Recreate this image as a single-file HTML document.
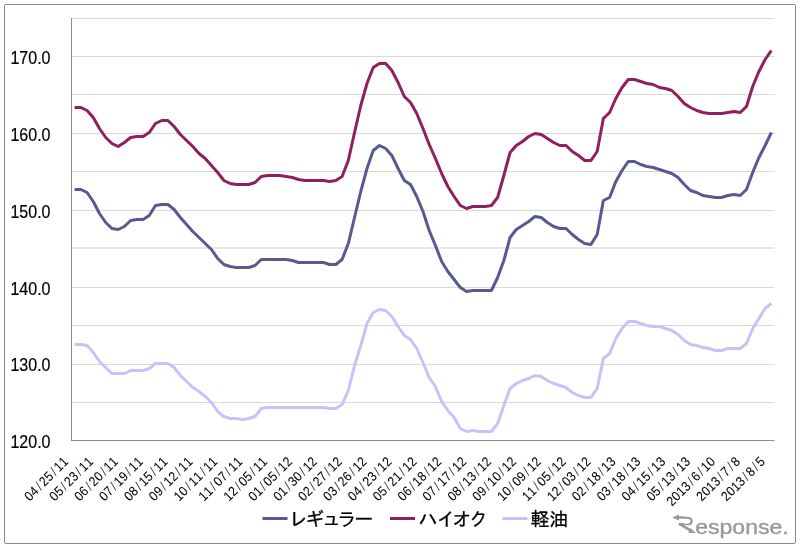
<!DOCTYPE html>
<html><head><meta charset="utf-8"><title>chart</title>
<style>
html,body{margin:0;padding:0;background:#fff;}
body{width:800px;height:547px;overflow:hidden;position:relative;}
svg{position:absolute;left:0;top:0;display:block;}
.yl{font-family:"Liberation Sans",sans-serif;fill:#000;}
.xl{font-family:"Liberation Sans",sans-serif;fill:#000;}
.lg{font-family:"Liberation Sans","IPAPGothic","IPAGothic","Noto Sans CJK JP",sans-serif;fill:#000;}
.logo{font-family:"Liberation Sans","DejaVu Sans",sans-serif;fill:#999;}
</style></head><body>
<svg width="800" height="547" viewBox="0 0 800 547">
<rect x="0" y="0" width="800" height="547" fill="#fff"/>
<rect x="4.5" y="4.5" width="791" height="539" rx="1.5" fill="none" stroke="#8c8c8c" stroke-width="1"/>

<line x1="71" y1="18.5" x2="774.5" y2="18.5" stroke="#d9d9d9" stroke-width="1"/>
<line x1="71" y1="56.5" x2="774.5" y2="56.5" stroke="#d9d9d9" stroke-width="1"/>
<line x1="71" y1="94.5" x2="774.5" y2="94.5" stroke="#d9d9d9" stroke-width="1"/>
<line x1="71" y1="133.5" x2="774.5" y2="133.5" stroke="#d9d9d9" stroke-width="1"/>
<line x1="71" y1="171.5" x2="774.5" y2="171.5" stroke="#d9d9d9" stroke-width="1"/>
<line x1="71" y1="210.5" x2="774.5" y2="210.5" stroke="#d9d9d9" stroke-width="1"/>
<line x1="71" y1="287.5" x2="774.5" y2="287.5" stroke="#d9d9d9" stroke-width="1"/>
<line x1="71" y1="325.5" x2="774.5" y2="325.5" stroke="#d9d9d9" stroke-width="1"/>
<line x1="71" y1="364.5" x2="774.5" y2="364.5" stroke="#d9d9d9" stroke-width="1"/>
<line x1="71" y1="402.5" x2="774.5" y2="402.5" stroke="#d9d9d9" stroke-width="1"/>
<rect x="71" y="247" width="703.5" height="2" fill="#e6e6e6"/>
<line x1="71.5" y1="18" x2="71.5" y2="441" stroke="#8c8c8c" stroke-width="1"/>
<line x1="71" y1="440.5" x2="774.5" y2="440.5" stroke="#8c8c8c" stroke-width="1"/>
<text class="yl" text-anchor="end" font-size="17.8" stroke="#000" stroke-width="0.2" transform="translate(50.5,64.1) scale(0.9,1)">170.0</text>
<text class="yl" text-anchor="end" font-size="17.8" stroke="#000" stroke-width="0.2" transform="translate(50.5,141.1) scale(0.9,1)">160.0</text>
<text class="yl" text-anchor="end" font-size="17.8" stroke="#000" stroke-width="0.2" transform="translate(50.5,218.1) scale(0.9,1)">150.0</text>
<text class="yl" text-anchor="end" font-size="17.8" stroke="#000" stroke-width="0.2" transform="translate(50.5,295.1) scale(0.9,1)">140.0</text>
<text class="yl" text-anchor="end" font-size="17.8" stroke="#000" stroke-width="0.2" transform="translate(50.5,371.1) scale(0.9,1)">130.0</text>
<text class="yl" text-anchor="end" font-size="17.8" stroke="#000" stroke-width="0.2" transform="translate(50.5,448.1) scale(0.9,1)">120.0</text>
<polyline fill="none" stroke="#c4c4fa" stroke-width="3" stroke-linejoin="round" stroke-linecap="butt" points="74.60,344.50 80.82,344.50 87.04,345.50 93.26,352.50 99.48,361.50 105.70,367.50 111.93,373.50 118.15,373.50 124.37,373.50 130.59,370.50 136.81,370.50 143.03,370.50 149.25,368.50 155.47,363.50 161.69,363.50 167.91,363.50 174.14,367.50 180.36,375.50 186.58,381.50 192.80,387.50 199.02,391.50 205.24,396.50 211.46,402.50 217.68,411.50 223.90,416.50 230.12,418.50 236.35,418.50 242.57,419.50 248.79,418.50 255.01,416.50 261.23,408.50 267.45,407.50 273.67,407.50 279.89,407.50 286.11,407.50 292.34,407.50 298.56,407.50 304.78,407.50 311.00,407.50 317.22,407.50 323.44,407.50 329.66,408.50 335.88,408.50 342.10,404.50 348.32,390.50 354.54,365.50 360.77,345.50 366.99,323.50 373.21,312.50 379.43,309.50 385.65,310.50 391.87,316.50 398.09,326.50 404.31,335.50 410.53,339.50 416.75,348.50 422.98,362.50 429.20,377.50 435.42,386.50 441.64,401.50 447.86,410.50 454.08,417.50 460.30,428.50 466.52,431.50 472.74,430.50 478.97,431.50 485.19,431.50 491.41,431.50 497.63,423.50 503.85,405.50 510.07,388.50 516.29,383.50 522.51,380.50 528.73,378.50 534.95,375.50 541.17,376.50 547.40,380.50 553.62,383.50 559.84,385.50 566.06,387.50 572.28,392.50 578.50,395.50 584.72,397.50 590.94,397.50 597.16,388.50 603.38,358.50 609.61,353.50 615.83,338.50 622.05,328.50 628.27,321.50 634.49,321.50 640.71,323.50 646.93,325.50 653.15,326.50 659.37,326.50 665.60,328.50 671.82,330.50 678.04,334.50 684.26,340.50 690.48,344.50 696.70,345.50 702.92,347.50 709.14,348.50 715.36,350.50 721.58,350.50 727.81,348.50 734.03,348.50 740.25,348.50 746.47,343.50 752.69,328.50 758.91,318.50 765.13,308.50 771.35,303.50"/>
<polyline fill="none" stroke="#575a8e" stroke-width="3" stroke-linejoin="round" stroke-linecap="butt" points="74.60,189.50 80.82,189.50 87.04,192.50 93.26,201.50 99.48,213.50 105.70,222.50 111.93,228.50 118.15,229.50 124.37,226.50 130.59,220.50 136.81,219.50 143.03,219.50 149.25,215.50 155.47,205.50 161.69,204.50 167.91,204.50 174.14,209.50 180.36,217.50 186.58,224.50 192.80,231.50 199.02,237.50 205.24,243.50 211.46,249.50 217.68,258.50 223.90,264.50 230.12,266.50 236.35,267.50 242.57,267.50 248.79,267.50 255.01,265.50 261.23,259.50 267.45,259.50 273.67,259.50 279.89,259.50 286.11,259.50 292.34,260.50 298.56,262.50 304.78,262.50 311.00,262.50 317.22,262.50 323.44,262.50 329.66,264.50 335.88,264.50 342.10,259.50 348.32,243.50 354.54,217.50 360.77,191.50 366.99,168.50 373.21,150.50 379.43,145.50 385.65,148.50 391.87,155.50 398.09,168.50 404.31,180.50 410.53,184.50 416.75,196.50 422.98,211.50 429.20,230.50 435.42,245.50 441.64,261.50 447.86,271.50 454.08,279.50 460.30,287.50 466.52,291.50 472.74,290.50 478.97,290.50 485.19,290.50 491.41,290.50 497.63,277.50 503.85,260.50 510.07,237.50 516.29,229.50 522.51,225.50 528.73,221.50 534.95,216.50 541.17,217.50 547.40,222.50 553.62,226.50 559.84,228.50 566.06,228.50 572.28,234.50 578.50,239.50 584.72,243.50 590.94,244.50 597.16,234.50 603.38,200.50 609.61,197.50 615.83,181.50 622.05,170.50 628.27,161.50 634.49,161.50 640.71,164.50 646.93,166.50 653.15,167.50 659.37,169.50 665.60,171.50 671.82,173.50 678.04,177.50 684.26,184.50 690.48,190.50 696.70,192.50 702.92,195.50 709.14,196.50 715.36,197.50 721.58,197.50 727.81,195.50 734.03,194.50 740.25,195.50 746.47,189.50 752.69,172.50 758.91,157.50 765.13,145.50 771.35,132.50"/>
<polyline fill="none" stroke="#8e2060" stroke-width="3" stroke-linejoin="round" stroke-linecap="butt" points="74.60,107.50 80.82,107.50 87.04,110.50 93.26,117.50 99.48,128.50 105.70,137.50 111.93,143.50 118.15,146.50 124.37,142.50 130.59,137.50 136.81,136.50 143.03,136.50 149.25,132.50 155.47,123.50 161.69,120.50 167.91,120.50 174.14,126.50 180.36,134.50 186.58,140.50 192.80,146.50 199.02,153.50 205.24,158.50 211.46,165.50 217.68,172.50 223.90,180.50 230.12,183.50 236.35,184.50 242.57,184.50 248.79,184.50 255.01,182.50 261.23,176.50 267.45,175.50 273.67,175.50 279.89,175.50 286.11,176.50 292.34,177.50 298.56,179.50 304.78,180.50 311.00,180.50 317.22,180.50 323.44,180.50 329.66,181.50 335.88,180.50 342.10,176.50 348.32,160.50 354.54,132.50 360.77,105.50 366.99,83.50 373.21,67.50 379.43,63.50 385.65,63.50 391.87,70.50 398.09,82.50 404.31,96.50 410.53,102.50 416.75,113.50 422.98,128.50 429.20,144.50 435.42,158.50 441.64,173.50 447.86,186.50 454.08,196.50 460.30,205.50 466.52,208.50 472.74,206.50 478.97,206.50 485.19,206.50 491.41,205.50 497.63,197.50 503.85,175.50 510.07,152.50 516.29,145.50 522.51,141.50 528.73,136.50 534.95,133.50 541.17,134.50 547.40,138.50 553.62,142.50 559.84,145.50 566.06,145.50 572.28,151.50 578.50,155.50 584.72,160.50 590.94,160.50 597.16,151.50 603.38,118.50 609.61,112.50 615.83,98.50 622.05,87.50 628.27,79.50 634.49,79.50 640.71,81.50 646.93,83.50 653.15,84.50 659.37,87.50 665.60,88.50 671.82,90.50 678.04,96.50 684.26,103.50 690.48,107.50 696.70,110.50 702.92,112.50 709.14,113.50 715.36,113.50 721.58,113.50 727.81,112.50 734.03,111.50 740.25,112.50 746.47,106.50 752.69,86.50 758.91,71.50 765.13,59.50 771.35,50.50"/>
<text class="xl" x="-61.67 -53.95 -44.35 -38.50 -30.78 -21.18 -15.34 -7.61" y="0" font-size="13.5" stroke="#000" stroke-width="0.05" transform="translate(69.10,462.5) rotate(-45) scale(0.9,1)">04<tspan stroke-width="0" fill="#333">/</tspan>25<tspan stroke-width="0" fill="#333">/</tspan>11</text>
<text class="xl" x="-61.67 -53.95 -44.35 -38.50 -30.78 -21.18 -15.34 -7.61" y="0" font-size="13.5" stroke="#000" stroke-width="0.05" transform="translate(93.98,462.5) rotate(-45) scale(0.9,1)">05<tspan stroke-width="0" fill="#333">/</tspan>23<tspan stroke-width="0" fill="#333">/</tspan>11</text>
<text class="xl" x="-61.67 -53.95 -44.35 -38.50 -30.78 -21.18 -15.34 -7.61" y="0" font-size="13.5" stroke="#000" stroke-width="0.05" transform="translate(118.87,462.5) rotate(-45) scale(0.9,1)">06<tspan stroke-width="0" fill="#333">/</tspan>20<tspan stroke-width="0" fill="#333">/</tspan>11</text>
<text class="xl" x="-61.67 -53.95 -44.35 -38.50 -30.78 -21.18 -15.34 -7.61" y="0" font-size="13.5" stroke="#000" stroke-width="0.05" transform="translate(143.75,462.5) rotate(-45) scale(0.9,1)">07<tspan stroke-width="0" fill="#333">/</tspan>19<tspan stroke-width="0" fill="#333">/</tspan>11</text>
<text class="xl" x="-61.67 -53.95 -44.35 -38.50 -30.78 -21.18 -15.34 -7.61" y="0" font-size="13.5" stroke="#000" stroke-width="0.05" transform="translate(168.64,462.5) rotate(-45) scale(0.9,1)">08<tspan stroke-width="0" fill="#333">/</tspan>15<tspan stroke-width="0" fill="#333">/</tspan>11</text>
<text class="xl" x="-61.67 -53.95 -44.35 -38.50 -30.78 -21.18 -15.34 -7.61" y="0" font-size="13.5" stroke="#000" stroke-width="0.05" transform="translate(193.52,462.5) rotate(-45) scale(0.9,1)">09<tspan stroke-width="0" fill="#333">/</tspan>12<tspan stroke-width="0" fill="#333">/</tspan>11</text>
<text class="xl" x="-61.67 -53.95 -44.35 -38.50 -30.78 -21.18 -15.34 -7.61" y="0" font-size="13.5" stroke="#000" stroke-width="0.05" transform="translate(218.40,462.5) rotate(-45) scale(0.9,1)">10<tspan stroke-width="0" fill="#333">/</tspan>11<tspan stroke-width="0" fill="#333">/</tspan>11</text>
<text class="xl" x="-61.67 -53.95 -44.35 -38.50 -30.78 -21.18 -15.34 -7.61" y="0" font-size="13.5" stroke="#000" stroke-width="0.05" transform="translate(243.29,462.5) rotate(-45) scale(0.9,1)">11<tspan stroke-width="0" fill="#333">/</tspan>07<tspan stroke-width="0" fill="#333">/</tspan>11</text>
<text class="xl" x="-61.67 -53.95 -44.35 -38.50 -30.78 -21.18 -15.34 -7.61" y="0" font-size="13.5" stroke="#000" stroke-width="0.05" transform="translate(268.17,462.5) rotate(-45) scale(0.9,1)">12<tspan stroke-width="0" fill="#333">/</tspan>05<tspan stroke-width="0" fill="#333">/</tspan>11</text>
<text class="xl" x="-61.67 -53.95 -44.35 -38.50 -30.78 -21.18 -15.34 -7.61" y="0" font-size="13.5" stroke="#000" stroke-width="0.05" transform="translate(293.06,462.5) rotate(-45) scale(0.9,1)">01<tspan stroke-width="0" fill="#333">/</tspan>05<tspan stroke-width="0" fill="#333">/</tspan>12</text>
<text class="xl" x="-61.67 -53.95 -44.35 -38.50 -30.78 -21.18 -15.34 -7.61" y="0" font-size="13.5" stroke="#000" stroke-width="0.05" transform="translate(317.94,462.5) rotate(-45) scale(0.9,1)">01<tspan stroke-width="0" fill="#333">/</tspan>30<tspan stroke-width="0" fill="#333">/</tspan>12</text>
<text class="xl" x="-61.67 -53.95 -44.35 -38.50 -30.78 -21.18 -15.34 -7.61" y="0" font-size="13.5" stroke="#000" stroke-width="0.05" transform="translate(342.82,462.5) rotate(-45) scale(0.9,1)">02<tspan stroke-width="0" fill="#333">/</tspan>27<tspan stroke-width="0" fill="#333">/</tspan>12</text>
<text class="xl" x="-61.67 -53.95 -44.35 -38.50 -30.78 -21.18 -15.34 -7.61" y="0" font-size="13.5" stroke="#000" stroke-width="0.05" transform="translate(367.71,462.5) rotate(-45) scale(0.9,1)">03<tspan stroke-width="0" fill="#333">/</tspan>26<tspan stroke-width="0" fill="#333">/</tspan>12</text>
<text class="xl" x="-61.67 -53.95 -44.35 -38.50 -30.78 -21.18 -15.34 -7.61" y="0" font-size="13.5" stroke="#000" stroke-width="0.05" transform="translate(392.59,462.5) rotate(-45) scale(0.9,1)">04<tspan stroke-width="0" fill="#333">/</tspan>23<tspan stroke-width="0" fill="#333">/</tspan>12</text>
<text class="xl" x="-61.67 -53.95 -44.35 -38.50 -30.78 -21.18 -15.34 -7.61" y="0" font-size="13.5" stroke="#000" stroke-width="0.05" transform="translate(417.48,462.5) rotate(-45) scale(0.9,1)">05<tspan stroke-width="0" fill="#333">/</tspan>21<tspan stroke-width="0" fill="#333">/</tspan>12</text>
<text class="xl" x="-61.67 -53.95 -44.35 -38.50 -30.78 -21.18 -15.34 -7.61" y="0" font-size="13.5" stroke="#000" stroke-width="0.05" transform="translate(442.36,462.5) rotate(-45) scale(0.9,1)">06<tspan stroke-width="0" fill="#333">/</tspan>18<tspan stroke-width="0" fill="#333">/</tspan>12</text>
<text class="xl" x="-61.67 -53.95 -44.35 -38.50 -30.78 -21.18 -15.34 -7.61" y="0" font-size="13.5" stroke="#000" stroke-width="0.05" transform="translate(467.24,462.5) rotate(-45) scale(0.9,1)">07<tspan stroke-width="0" fill="#333">/</tspan>17<tspan stroke-width="0" fill="#333">/</tspan>12</text>
<text class="xl" x="-61.67 -53.95 -44.35 -38.50 -30.78 -21.18 -15.34 -7.61" y="0" font-size="13.5" stroke="#000" stroke-width="0.05" transform="translate(492.13,462.5) rotate(-45) scale(0.9,1)">08<tspan stroke-width="0" fill="#333">/</tspan>13<tspan stroke-width="0" fill="#333">/</tspan>12</text>
<text class="xl" x="-61.67 -53.95 -44.35 -38.50 -30.78 -21.18 -15.34 -7.61" y="0" font-size="13.5" stroke="#000" stroke-width="0.05" transform="translate(517.01,462.5) rotate(-45) scale(0.9,1)">09<tspan stroke-width="0" fill="#333">/</tspan>10<tspan stroke-width="0" fill="#333">/</tspan>12</text>
<text class="xl" x="-61.67 -53.95 -44.35 -38.50 -30.78 -21.18 -15.34 -7.61" y="0" font-size="13.5" stroke="#000" stroke-width="0.05" transform="translate(541.90,462.5) rotate(-45) scale(0.9,1)">10<tspan stroke-width="0" fill="#333">/</tspan>09<tspan stroke-width="0" fill="#333">/</tspan>12</text>
<text class="xl" x="-61.67 -53.95 -44.35 -38.50 -30.78 -21.18 -15.34 -7.61" y="0" font-size="13.5" stroke="#000" stroke-width="0.05" transform="translate(566.78,462.5) rotate(-45) scale(0.9,1)">11<tspan stroke-width="0" fill="#333">/</tspan>05<tspan stroke-width="0" fill="#333">/</tspan>12</text>
<text class="xl" x="-61.67 -53.95 -44.35 -38.50 -30.78 -21.18 -15.34 -7.61" y="0" font-size="13.5" stroke="#000" stroke-width="0.05" transform="translate(591.66,462.5) rotate(-45) scale(0.9,1)">12<tspan stroke-width="0" fill="#333">/</tspan>03<tspan stroke-width="0" fill="#333">/</tspan>12</text>
<text class="xl" x="-61.67 -53.95 -44.35 -38.50 -30.78 -21.18 -15.34 -7.61" y="0" font-size="13.5" stroke="#000" stroke-width="0.05" transform="translate(616.55,462.5) rotate(-45) scale(0.9,1)">02<tspan stroke-width="0" fill="#333">/</tspan>18<tspan stroke-width="0" fill="#333">/</tspan>13</text>
<text class="xl" x="-61.67 -53.95 -44.35 -38.50 -30.78 -21.18 -15.34 -7.61" y="0" font-size="13.5" stroke="#000" stroke-width="0.05" transform="translate(641.43,462.5) rotate(-45) scale(0.9,1)">03<tspan stroke-width="0" fill="#333">/</tspan>18<tspan stroke-width="0" fill="#333">/</tspan>13</text>
<text class="xl" x="-61.67 -53.95 -44.35 -38.50 -30.78 -21.18 -15.34 -7.61" y="0" font-size="13.5" stroke="#000" stroke-width="0.05" transform="translate(666.32,462.5) rotate(-45) scale(0.9,1)">04<tspan stroke-width="0" fill="#333">/</tspan>15<tspan stroke-width="0" fill="#333">/</tspan>13</text>
<text class="xl" x="-61.67 -53.95 -44.35 -38.50 -30.78 -21.18 -15.34 -7.61" y="0" font-size="13.5" stroke="#000" stroke-width="0.05" transform="translate(691.20,462.5) rotate(-45) scale(0.9,1)">05<tspan stroke-width="0" fill="#333">/</tspan>13<tspan stroke-width="0" fill="#333">/</tspan>13</text>
<text class="xl" x="-69.39 -61.67 -53.95 -46.23 -36.63 -30.78 -21.18 -15.34 -7.61" y="0" font-size="13.5" stroke="#000" stroke-width="0.05" transform="translate(716.08,462.5) rotate(-45) scale(0.9,1)">2013<tspan stroke-width="0" fill="#333">/</tspan>6<tspan stroke-width="0" fill="#333">/</tspan>10</text>
<text class="xl" x="-61.67 -53.95 -46.23 -38.50 -28.90 -23.06 -13.46 -7.61" y="0" font-size="13.5" stroke="#000" stroke-width="0.05" transform="translate(740.97,462.5) rotate(-45) scale(0.9,1)">2013<tspan stroke-width="0" fill="#333">/</tspan>7<tspan stroke-width="0" fill="#333">/</tspan>8</text>
<text class="xl" x="-61.67 -53.95 -46.23 -38.50 -28.90 -23.06 -13.46 -7.61" y="0" font-size="13.5" stroke="#000" stroke-width="0.05" transform="translate(765.85,462.5) rotate(-45) scale(0.9,1)">2013<tspan stroke-width="0" fill="#333">/</tspan>8<tspan stroke-width="0" fill="#333">/</tspan>5</text>
<line x1="262.5" y1="518.5" x2="287.5" y2="518.5" stroke="#575a8e" stroke-width="3"/>
<text class="lg" x="291" y="526.2" font-size="19.0" letter-spacing="0.1" stroke="#000" stroke-width="0.3">レギュラー</text>
<line x1="390" y1="518.5" x2="415" y2="518.5" stroke="#8e2060" stroke-width="3"/>
<text class="lg" x="418.7" y="526.2" font-size="19.0" letter-spacing="0.8" stroke="#000" stroke-width="0.3">ハイオク</text>
<line x1="502.5" y1="518.5" x2="527.5" y2="518.5" stroke="#c4c4fa" stroke-width="3"/>
<text class="lg" x="530.5" y="526.2" font-size="19.0" letter-spacing="0" stroke="#000" stroke-width="0.3">軽油</text>
<defs><clipPath id="rc"><rect x="683.3" y="505" width="30" height="20.3"/></clipPath></defs>
<g fill="#999">
<path d="M672.3 517.4 L679 514.4 L679 520.4 Z"/>
<rect x="678.5" y="516.3" width="5.5" height="2.3"/>
<rect x="678.6" y="523.0" width="5.5" height="2.3"/>
<line x1="679.8" y1="524.2" x2="691.6" y2="531.2" stroke="#999" stroke-width="2.5"/>
<path d="M690.0 527.8 L695.9 532.9 L688.4 532.9 Z"/>
<text class="logo" x="678.2" y="531.5" font-size="22.5" textLength="16" lengthAdjust="spacingAndGlyphs" stroke="#999" stroke-width="0.3" clip-path="url(#rc)">R</text><text class="logo" x="695.2" y="534" font-size="19.3" textLength="93.5" lengthAdjust="spacingAndGlyphs" stroke="#999" stroke-width="0.35">esponse.</text>
</g>
</svg></body></html>
